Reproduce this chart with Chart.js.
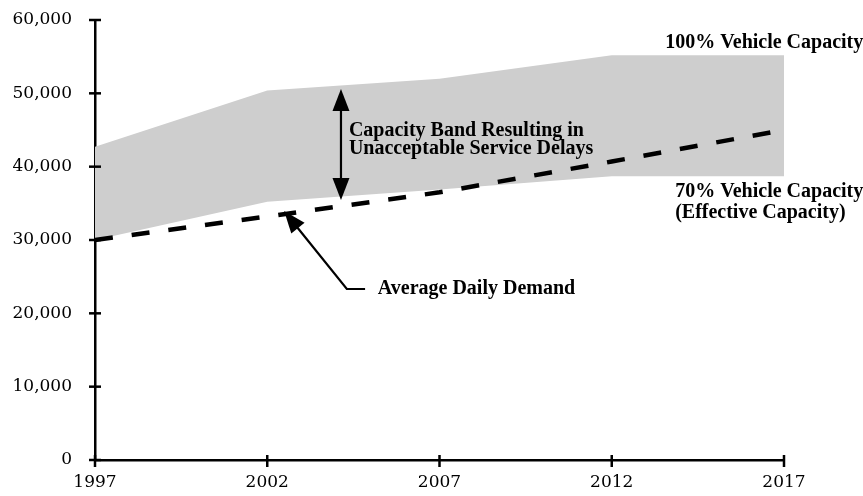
<!DOCTYPE html>
<html><head><meta charset="utf-8">
<script src="https://cdn.jsdelivr.net/npm/chart.js@4.4.1/dist/chart.umd.min.js"></script>
<style>html,body{margin:0;padding:0;background:#fff;} #wrap{width:863px;height:496px;}</style>
</head><body><div id="wrap"><canvas id="c" width="863" height="496"></canvas></div>
<script>
// ---- data ----
const years = [1997, 2002, 2007, 2012, 2017];
const capacity100 = [42700, 50400, 52000, 55200, 55200];
const capacity70 = [30000, 35200, 36900, 38700, 38700];
const dailyDemand = [30000, 33200, 36500, 40700, 45000];
const yTickValues = [0, 10000, 20000, 30000, 40000, 50000, 60000];
const xTickValues = years;

// annotation anchors in data units (year, value)
const labelTexts = [
  {text: '100% Vehicle Capacity', x: 2013.55, y: 56860},
  {text: '70% Vehicle Capacity', x: 2013.84, y: 36550},
  {text: '(Effective Capacity)', x: 2013.84, y: 33680},
  {text: 'Capacity Band Resulting in', x: 2004.37, y: 44860},
  {text: 'Unacceptable Service Delays', x: 2004.37, y: 42410},
  {text: 'Average Daily Demand', x: 2005.21, y: 23320}
];
const bandArrow = {x: 2004.14, top: 50590, bottom: 35450};
const demandPointer = [[2004.84, 23320], [2004.31, 23320], [2002.49, 33950]];

const toXY = arr => arr.map((v, i) => ({x: years[i], y: v}));

const FONT_TICK = '"DejaVu Serif", serif';
const FONT_ANN = 'bold 20px "Liberation Serif", "Times New Roman", serif';

function arrowHead(ctx, tipX, tipY, fromX, fromY, len, halfW) {
  const a = Math.atan2(tipY - fromY, tipX - fromX);
  const bx = tipX - len * Math.cos(a), by = tipY - len * Math.sin(a);
  const px = -Math.sin(a) * halfW, py = Math.cos(a) * halfW;
  ctx.beginPath();
  ctx.moveTo(tipX, tipY);
  ctx.lineTo(bx + px, by + py);
  ctx.lineTo(bx - px, by - py);
  ctx.closePath();
  ctx.fill();
}

const crossTicks = {
  id: 'crossTicks',
  afterDraw(chart) {
    const ctx = chart.ctx, xs = chart.scales.x, ys = chart.scales.y;
    const ax = xs.getPixelForValue(years[0]);
    const ay = ys.getPixelForValue(0);
    ctx.save();
    ctx.strokeStyle = '#000';
    ctx.lineWidth = 2.5;
    yTickValues.forEach(v => {
      const py = ys.getPixelForValue(v);
      ctx.beginPath(); ctx.moveTo(ax - 6, py); ctx.lineTo(ax + 6, py); ctx.stroke();
    });
    xTickValues.forEach(v => {
      const px = xs.getPixelForValue(v);
      ctx.beginPath(); ctx.moveTo(px, ay - 5); ctx.lineTo(px, ay + 7); ctx.stroke();
    });
    ctx.restore();
  }
};

const annotations = {
  id: 'annotations',
  afterDatasetsDraw(chart) {
    const ctx = chart.ctx, xs = chart.scales.x, ys = chart.scales.y;
    ctx.save();
    ctx.fillStyle = '#000';
    ctx.strokeStyle = '#000';
    // double arrow
    const bx = xs.getPixelForValue(bandArrow.x);
    const bt = ys.getPixelForValue(bandArrow.top);
    const bb = ys.getPixelForValue(bandArrow.bottom);
    ctx.lineWidth = 2.2;
    ctx.beginPath(); ctx.moveTo(bx, bt + 15); ctx.lineTo(bx, bb - 15); ctx.stroke();
    arrowHead(ctx, bx, bt, bx, bb, 22, 8.5);
    arrowHead(ctx, bx, bb, bx, bt, 22, 8.5);
    // demand pointer
    const pts = demandPointer.map(p => [xs.getPixelForValue(p[0]), ys.getPixelForValue(p[1])]);
    ctx.lineWidth = 2.2;
    ctx.beginPath();
    ctx.moveTo(pts[0][0], pts[0][1]);
    ctx.lineTo(pts[1][0], pts[1][1]);
    const tip = pts[2], el = pts[1];
    const a = Math.atan2(tip[1] - el[1], tip[0] - el[0]);
    ctx.lineTo(tip[0] - 15 * Math.cos(a), tip[1] - 15 * Math.sin(a));
    ctx.stroke();
    arrowHead(ctx, tip[0], tip[1], el[0], el[1], 22, 8.5);
    // texts
    ctx.font = FONT_ANN;
    ctx.textAlign = 'left';
    ctx.textBaseline = 'middle';
    labelTexts.forEach(t => {
      ctx.fillText(t.text, xs.getPixelForValue(t.x), ys.getPixelForValue(t.y));
    });
    ctx.restore();
  }
};

new Chart(document.getElementById('c'), {
  type: 'line',
  data: {
    datasets: [
      {
        label: 'Average Daily Demand',
        data: toXY(dailyDemand),
        borderColor: '#000',
        borderWidth: 4.5,
        borderDash: [18, 19],
        borderCapStyle: 'butt',
        pointRadius: 0,
        fill: false,
        tension: 0
      },
      {
        label: '100% Vehicle Capacity',
        data: toXY(capacity100),
        borderWidth: 0,
        borderColor: 'rgba(0,0,0,0)',
        backgroundColor: 'rgb(206,206,206)',
        pointRadius: 0,
        fill: '+1',
        tension: 0
      },
      {
        label: '70% Vehicle Capacity',
        data: toXY(capacity70),
        borderWidth: 0,
        borderColor: 'rgba(0,0,0,0)',
        pointRadius: 0,
        fill: false,
        tension: 0
      }
    ]
  },
  options: {
    responsive: false,
    animation: false,
    devicePixelRatio: 1,
    layout: {padding: {top: 20, right: 79, left: 0, bottom: 0}},
    plugins: {legend: {display: false}, tooltip: {enabled: false}},
    scales: {
      x: {
        type: 'linear',
        min: 1997, max: 2017,
        afterBuildTicks: s => { s.ticks = xTickValues.map(v => ({value: v})); },
        afterFit: s => { s.height = 36; s.paddingLeft = 0; s.paddingRight = 0; },
        grid: {display: false, drawTicks: false},
        border: {display: true, color: '#000', width: 2.5},
        ticks: {
          padding: 12,
          color: '#000',
          font: {family: FONT_TICK, size: 17},
          maxRotation: 0,
          callback: v => String(v)
        }
      },
      y: {
        type: 'linear',
        min: 0, max: 60000,
        afterBuildTicks: s => { s.ticks = yTickValues.map(v => ({value: v})); },
        afterFit: s => { s.width = 95; s.paddingTop = 0; s.paddingBottom = 0; },
        grid: {display: false, drawTicks: false},
        border: {display: true, color: '#000', width: 2.5},
        ticks: {
          padding: 23,
          color: '#000',
          font: {family: FONT_TICK, size: 17},
          callback: v => v.toLocaleString('en-US')
        }
      }
    }
  },
  plugins: [crossTicks, annotations]
});
</script>
</body></html>
